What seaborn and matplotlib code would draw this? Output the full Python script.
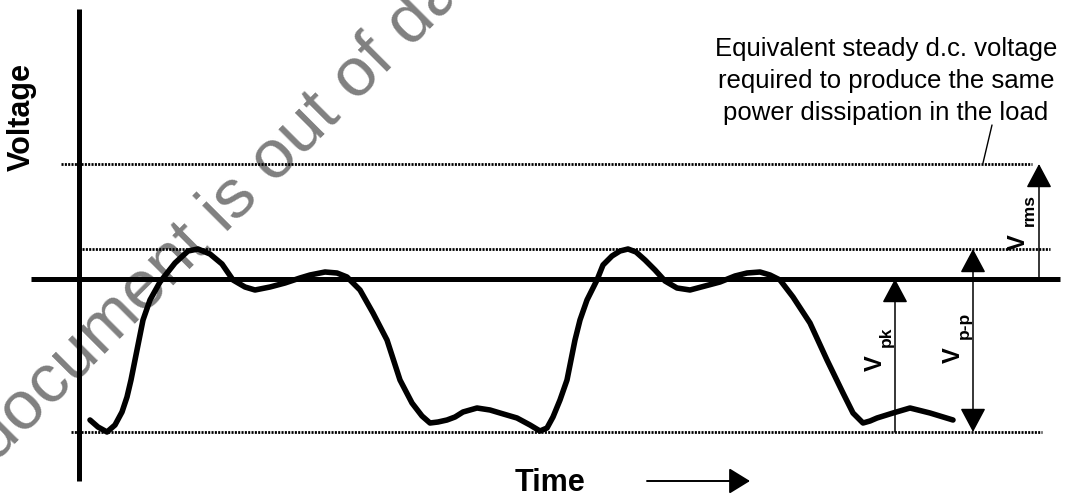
import numpy as np
import pandas as pd
import matplotlib
matplotlib.use("Agg")
import matplotlib.pyplot as plt
import seaborn as sns

# ── Data (time and voltage in arbitrary units, 0 V = zero line) ──────────────
time = [0.11, 0.19, 0.28, 0.36, 0.43, 0.48, 0.52, 0.56, 0.60, 0.64, 0.71, 0.81,
        0.96, 1.09, 1.19, 1.31, 1.43, 1.54, 1.66, 1.76, 1.91, 2.06, 2.21, 2.31,
        2.46, 2.58, 2.68, 2.81, 2.94, 3.08, 3.21, 3.33, 3.43, 3.51, 3.59, 3.68,
        3.76, 3.84, 3.98, 4.11, 4.21, 4.38, 4.51, 4.61, 4.68, 4.74, 4.81, 4.88,
        4.96, 5.01, 5.08, 5.18, 5.24, 5.33, 5.41, 5.49, 5.57, 5.66, 5.76, 5.86,
        5.98, 6.11, 6.26, 6.41, 6.56, 6.68, 6.81, 6.91, 7.01, 7.14, 7.31, 7.48,
        7.64, 7.74, 7.84, 7.91, 7.98, 8.14, 8.31, 8.51, 8.74]
voltage = [-1.41, -1.48, -1.53, -1.46, -1.33, -1.18, -1.01, -0.81, -0.61, -0.41,
           -0.21, -0.03, 0.16, 0.28, 0.30, 0.25, 0.15, -0.01, -0.08, -0.11,
           -0.08, -0.04, 0.01, 0.04, 0.07, 0.06, 0.02, -0.11, -0.34, -0.61,
           -1.01, -1.24, -1.37, -1.44, -1.43, -1.41, -1.38, -1.33, -1.29, -1.31,
           -1.34, -1.39, -1.46, -1.52, -1.49, -1.38, -1.21, -1.01, -0.61, -0.41,
           -0.21, -0.01, 0.14, 0.23, 0.28, 0.30, 0.27, 0.19, 0.09, -0.02,
           -0.09, -0.11, -0.07, -0.03, 0.03, 0.06, 0.07, 0.04, -0.01, -0.18,
           -0.44, -0.81, -1.14, -1.34, -1.44, -1.42, -1.39, -1.34, -1.29, -1.34,
           -1.41]

v_peak = 0.30      # positive peak level
v_rms = 1.15       # equivalent d.c. level
v_trough = -1.53   # negative peak level

annotation = ("Equivalent steady d.c. voltage\n"
              "required to produce the same\n"
              "power dissipation in the load")
watermark = "This document is out of date"

# ── Figure ───────────────────────────────────────────────────────────────────
sns.set_theme(style="white")
plt.rcParams["font.family"] = ["Liberation Sans", "DejaVu Sans"]
plt.rcParams["text.color"] = "black"

fig = plt.figure(figsize=(10.73, 4.95), dpi=100)
ax = fig.add_axes([0, 0, 1, 1])

# watermark behind everything
ax.text(1.18, 0.18, watermark, rotation=45, rotation_mode="anchor",
        ha="center", va="baseline", fontsize=50, color="#808080", zorder=0)

# axes of the sketch
ax.hlines(0, -0.48, 9.81, color="black", lw=3.6, zorder=3)
ax.vlines(0, -2.02, 2.70, color="black", lw=3.6, zorder=3)

# dotted reference levels
dots = dict(color="black", lw=2.0, linestyle=(0, (0.75, 0.45)), zorder=2)
ax.hlines(v_rms, -0.18, 9.53, **dots)
ax.hlines(v_peak, 0.03, 9.71, **dots)
ax.hlines(v_trough, -0.08, 9.63, **dots)

# waveform
df = pd.DataFrame({"time": time, "voltage": voltage})
sns.lineplot(data=df, x="time", y="voltage", sort=False, estimator=None,
             color="black", lw=4, ax=ax, zorder=4,
             solid_capstyle="round", solid_joinstyle="round")
ax.set_xlabel("")
ax.set_ylabel("")
ax.set_xlim(-0.79, 9.94)
ax.set_ylim(-2.16, 2.79)
ax.axis("off")

# measurement arrows
head = "-|>,head_length=0.75,head_width=0.4"
arr = dict(arrowstyle=head, color="black", lw=1.1, shrinkA=0, shrinkB=0,
           mutation_scale=20)
ax.annotate("", xy=(8.16, 0), xytext=(8.16, v_trough), arrowprops=arr, zorder=5)
ax.annotate("", xy=(9.60, v_rms), xytext=(9.60, 0), arrowprops=arr, zorder=5)
arr2 = dict(arr, arrowstyle="<|-|>,head_length=0.75,head_width=0.4")
ax.annotate("", xy=(8.94, v_peak), xytext=(8.94, v_trough), arrowprops=arr2, zorder=5)

# labels V_pk, V_p-p, V_rms
def vlabel(x, y, sub):
    ax.text(x, y, "V", rotation=90, rotation_mode="anchor", ha="left",
            va="baseline", fontsize=17, fontweight="bold", zorder=6)
    ax.text(x + 0.09, y + 0.24, sub, rotation=90, rotation_mode="anchor",
            ha="left", va="baseline", fontsize=12.5, fontweight="bold", zorder=6)

vlabel(8.03, -0.92, "pk")
vlabel(8.81, -0.84, "p-p")
vlabel(9.46, 0.29, "rms")

# axis titles
ax.text(-0.57, 1.62, "Voltage", rotation=90, ha="center", va="center",
        fontsize=22, fontweight="bold")
ax.text(4.71, -2.12, "Time", ha="center", va="baseline",
        fontsize=22, fontweight="bold")
ax.annotate("", xy=(6.71, -2.02), xytext=(5.68, -2.02),
            arrowprops=dict(arrowstyle="-|>,head_length=0.65,head_width=0.4",
                            color="black", lw=1.4, shrinkA=0, shrinkB=0,
                            mutation_scale=20))

# explanation of the rms level
ax.text(8.07, 1.98, annotation, ha="center", va="center", fontsize=18.5,
        linespacing=1.42)
ax.plot([9.13, 9.04], [1.54, 1.16], color="black", lw=1.0)

fig.savefig("out.png", dpi=100)
plt.close(fig)
